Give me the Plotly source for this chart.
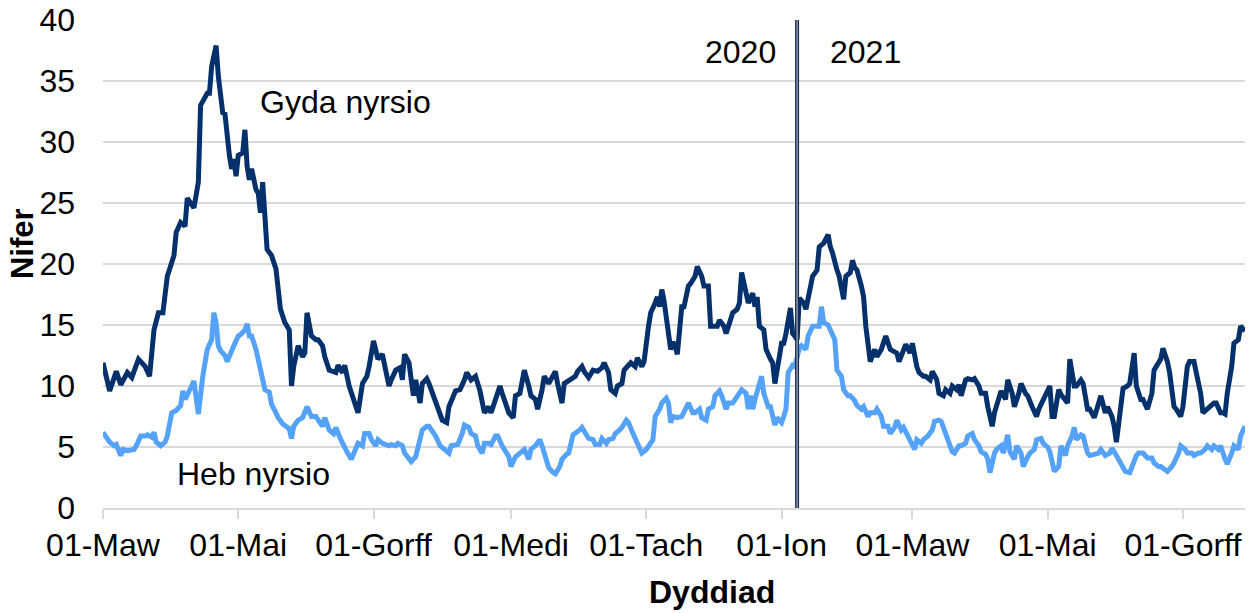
import pandas as pd
import plotly.graph_objects as go

START = "2020-03-01"

# Gyda nyrsio (with nursing) — day offset from 01-Mar-2020, value
dark_day = [0, 3, 6, 8, 11, 13, 16, 19, 21, 23, 25, 27, 29, 32, 33, 35, 37, 38, 41, 43, 44, 47, 48, 49, 51, 52, 54, 55, 57, 58,
            59, 60, 61, 63, 64, 65, 66, 67, 69, 70, 71, 72, 74, 76, 78, 80, 82, 84, 85, 86, 88, 90, 91, 92, 94, 96, 97, 99, 100, 102,
            105, 106, 108, 109, 111, 112, 114, 115, 117, 119, 120, 122, 124, 126, 127, 129, 130, 132, 134, 135, 136, 138, 139, 140, 141, 143, 144, 146, 147, 149,
            151, 153, 155, 156, 159, 161, 163, 164, 166, 168, 170, 172, 174, 175, 177, 179, 180, 182, 183, 185, 186, 188, 189, 190, 192, 193, 195, 196, 198, 199,
            201, 202, 204, 205, 207, 208, 210, 213, 214, 216, 217, 219, 221, 223, 225, 226, 228, 229, 231, 232, 234, 235, 237, 238, 240, 241, 243, 244, 246, 247,
            249, 250, 251, 252, 253, 255, 256, 257, 258, 259, 261, 262, 264, 265, 267, 268, 270, 271, 273, 274, 277, 278, 280, 281, 283, 284, 286, 287, 288, 290,
            291, 293, 294, 295, 296, 298, 299, 301, 302, 303, 305, 306, 307, 308, 310, 311, 312, 313, 314, 316, 317, 319, 320, 322, 323, 325, 327, 328, 329, 331,
            332, 334, 335, 337, 338, 339, 340, 342, 343, 344, 345, 346, 348, 349, 351, 353, 355, 358, 359, 361, 362, 364, 365, 367, 368, 370, 371, 373, 374, 376,
            377, 379, 380, 382, 383, 385, 386, 387, 389, 390, 392, 393, 395, 396, 398, 399, 401, 402, 404, 405, 407, 408, 410, 411, 413, 414, 416, 417, 419, 421,
            422, 425, 426, 427, 428, 429, 431, 432, 435, 436, 438, 439, 441, 442, 444, 445, 447, 448, 450, 452, 453, 455, 456, 457, 459, 460, 462, 463, 465, 466,
            468, 469, 471, 473, 474, 476, 477, 478, 480, 481, 483, 484, 486, 487, 489, 490, 492, 493, 495, 496, 498, 501, 502, 504, 505, 506, 507, 509, 510, 512,
            513, 515]
dark_val = [11.9, 9.6, 11.2, 10.1, 11.1, 10.7, 12.2, 11.6, 10.8, 14.6, 16.0, 16.0, 19.0, 20.7, 22.6, 23.4, 23.1, 25.4, 24.6, 26.7, 33.0, 34.0, 34.0, 36.2, 37.9, 35.4, 32.4, 32.3, 28.9, 27.8,
            28.6, 27.2, 28.9, 29.1, 31.0, 28.0, 26.9, 27.8, 26.1, 25.8, 24.2, 26.7, 21.2, 20.7, 19.6, 16.3, 15.2, 14.6, 10.0, 11.6, 13.3, 12.4, 12.7, 16.0, 14.1, 13.8, 13.8, 13.3, 12.4, 11.3,
            11.1, 11.7, 11.1, 11.7, 10.0, 9.4, 8.1, 7.8, 10.2, 10.8, 11.6, 13.7, 12.2, 12.6, 11.7, 10.0, 10.5, 11.3, 11.5, 10.5, 12.6, 11.9, 10.5, 9.2, 10.5, 8.6, 10.2, 10.6, 10.2, 9.2,
            8.1, 7.2, 7.0, 8.3, 9.6, 9.7, 10.5, 11.1, 10.5, 10.8, 9.6, 7.8, 8.3, 7.8, 8.9, 10.0, 9.4, 8.3, 7.8, 7.4, 9.2, 9.4, 10.2, 11.3, 10.0, 9.2, 8.9, 8.1, 9.7, 10.8,
            10.2, 10.5, 11.2, 10.2, 8.6, 10.2, 10.4, 10.8, 11.2, 11.6, 11.2, 10.7, 11.3, 11.2, 11.5, 11.9, 11.1, 9.7, 9.4, 10.0, 10.2, 11.3, 11.7, 11.9, 11.6, 12.3, 11.6, 12.0, 14.9, 16.0,
            16.8, 17.3, 16.5, 17.9, 17.0, 13.8, 13.0, 13.6, 13.3, 12.6, 16.5, 16.5, 18.2, 18.4, 19.0, 19.8, 19.0, 18.2, 18.2, 14.9, 14.9, 15.4, 14.9, 14.3, 15.4, 16.0, 16.3, 16.8, 19.3, 17.3,
            16.8, 17.6, 16.5, 17.3, 14.9, 14.6, 13.0, 12.2, 11.9, 10.2, 12.4, 13.5, 13.5, 14.3, 16.4, 14.3, 14.1, 13.8, 17.2, 16.8, 16.3, 18.2, 19.0, 19.5, 21.4, 21.7, 22.4, 21.4, 20.9, 19.5,
            19.0, 17.1, 19.0, 19.3, 20.3, 19.7, 19.5, 18.2, 17.3, 14.9, 13.5, 12.0, 13.0, 12.4, 13.0, 14.1, 13.0, 12.7, 12.0, 13.0, 13.4, 12.7, 13.5, 11.6, 11.1, 10.8, 10.8, 10.5, 11.2, 10.5,
            9.4, 9.2, 9.7, 9.4, 10.0, 9.7, 10.1, 9.2, 10.5, 10.6, 10.5, 10.6, 10.0, 9.4, 9.4, 8.3, 6.7, 7.8, 8.9, 9.6, 8.9, 10.5, 9.4, 8.3, 9.4, 10.2, 9.4, 9.2, 8.3, 7.5,
            8.1, 9.2, 9.7, 10.0, 7.5, 7.5, 9.7, 9.3, 8.6, 12.2, 10.0, 10.0, 10.5, 10.2, 8.1, 8.1, 7.4, 8.1, 9.2, 7.8, 8.3, 7.5, 6.7, 5.4, 8.3, 9.8, 10.0, 10.2, 12.7, 10.0,
            8.9, 8.9, 8.1, 9.4, 11.3, 12.0, 12.2, 13.1, 12.0, 11.1, 8.3, 8.1, 7.5, 8.3, 11.6, 12.0, 12.0, 11.1, 9.4, 7.8, 8.1, 8.6, 8.6, 7.8, 7.8, 7.7, 9.4, 11.6, 13.5, 13.8,
            14.9, 14.5]

# Heb nyrsio (without nursing)
light_day = [0, 2, 3, 5, 6, 8, 9, 11, 14, 15, 17, 19, 20, 22, 23, 24, 26, 28, 29, 31, 33, 35, 36, 37, 38, 40, 41, 43, 45, 46,
             47, 49, 50, 51, 52, 53, 55, 56, 58, 59, 61, 62, 64, 65, 66, 67, 69, 70, 72, 73, 75, 76, 78, 79, 81, 82, 84, 85, 86, 88,
             90, 92, 94, 96, 98, 99, 100, 102, 104, 105, 107, 108, 110, 112, 114, 115, 117, 118, 120, 121, 123, 124, 126, 127, 129, 130, 132, 133, 135, 136,
             138, 139, 141, 142, 144, 146, 147, 150, 152, 154, 156, 157, 159, 160, 162, 163, 165, 166, 168, 169, 171, 172, 174, 175, 177, 178, 180, 181, 183, 184,
             186, 188, 190, 192, 193, 195, 197, 198, 200, 201, 203, 204, 206, 207, 209, 210, 212, 213, 215, 216, 218, 219, 221, 222, 224, 225, 227, 228, 230, 231,
             233, 234, 236, 237, 239, 240, 242, 243, 245, 246, 248, 249, 251, 252, 254, 255, 256, 257, 259, 261, 263, 264, 266, 267, 269, 270, 272, 273, 275, 276,
             278, 279, 281, 282, 284, 285, 287, 288, 290, 291, 292, 293, 294, 296, 297, 298, 300, 301, 303, 304, 306, 307, 308, 309, 311, 312, 314, 315, 317, 318,
             320, 321, 323, 324, 325, 327, 328, 330, 331, 333, 334, 336, 337, 339, 340, 342, 343, 345, 346, 348, 349, 351, 352, 354, 355, 357, 358, 360, 361, 363,
             364, 366, 367, 369, 370, 372, 374, 375, 377, 378, 380, 381, 383, 384, 386, 387, 389, 390, 392, 393, 395, 396, 398, 399, 400, 402, 403, 405, 406, 408,
             409, 411, 412, 414, 415, 417, 418, 420, 421, 423, 424, 426, 427, 429, 431, 432, 434, 435, 437, 438, 439, 441, 442, 444, 445, 447, 449, 450, 452, 454,
             455, 457, 458, 460, 461, 463, 464, 466, 467, 469, 471, 473, 474, 476, 477, 479, 480, 482, 483, 485, 486, 488, 489, 491, 492, 494, 495, 497, 498, 500,
             501, 503, 504, 506, 507, 509, 510, 512, 513, 515]
light_val = [6.2, 5.6, 5.4, 5.1, 5.2, 4.3, 4.8, 4.7, 4.8, 5.1, 5.9, 5.9, 6.0, 5.8, 6.2, 5.4, 5.1, 5.4, 5.9, 7.8, 8.0, 8.4, 9.6, 8.9, 9.2, 10.0, 10.4, 7.7, 10.8, 12.3,
             13.0, 13.8, 16.0, 15.2, 13.3, 12.9, 12.5, 12.0, 13.0, 13.3, 14.1, 14.2, 14.6, 15.1, 14.1, 14.1, 13.0, 12.2, 10.8, 9.7, 9.5, 8.5, 7.8, 7.4, 6.9, 6.8, 6.5, 5.7, 6.7, 7.2,
             7.4, 8.3, 7.5, 7.5, 7.0, 6.7, 7.4, 6.4, 6.1, 6.6, 5.7, 5.3, 4.6, 4.0, 4.8, 5.3, 5.1, 6.1, 6.1, 5.6, 5.1, 5.6, 5.3, 5.2, 5.1, 5.2, 5.1, 5.3, 5.1, 4.5,
             4.0, 3.8, 4.2, 5.1, 6.4, 6.7, 6.7, 5.9, 5.1, 4.8, 4.5, 5.1, 5.1, 5.2, 6.1, 6.8, 6.6, 6.1, 5.9, 5.1, 4.5, 5.3, 5.3, 5.2, 5.9, 5.9, 5.1, 4.8, 4.2, 3.4,
             4.2, 4.5, 4.8, 4.0, 4.8, 5.1, 5.6, 5.1, 4.0, 3.3, 2.9, 2.8, 3.4, 4.0, 4.4, 4.5, 6.0, 6.1, 6.4, 6.6, 5.9, 5.7, 5.6, 5.2, 5.2, 5.7, 5.3, 5.6, 5.7, 6.1,
             6.4, 6.6, 7.2, 7.0, 6.1, 5.7, 5.1, 4.5, 4.8, 5.1, 5.6, 7.5, 8.1, 8.6, 9.0, 8.6, 7.0, 7.5, 7.4, 7.5, 8.2, 8.6, 7.8, 7.8, 8.1, 7.4, 7.2, 8.1, 8.3, 9.2,
             9.6, 9.2, 8.1, 8.6, 8.6, 8.9, 9.4, 9.7, 9.4, 8.1, 9.2, 8.1, 8.9, 10.0, 10.8, 9.4, 8.3, 8.3, 6.8, 7.4, 7.0, 7.5, 8.1, 11.1, 11.7, 11.6, 13.1, 13.3, 13.0, 14.1,
             14.9, 14.9, 14.9, 16.5, 15.2, 15.0, 14.6, 13.8, 11.3, 10.8, 9.7, 9.2, 9.2, 8.8, 8.4, 8.1, 8.3, 7.5, 7.8, 7.8, 8.1, 7.5, 6.7, 6.7, 6.1, 6.6, 7.2, 6.4, 6.6, 5.9,
             5.7, 4.8, 5.6, 5.3, 5.6, 5.9, 6.4, 7.1, 7.2, 7.1, 6.1, 5.6, 4.6, 4.5, 5.1, 5.1, 5.3, 5.9, 6.1, 5.6, 5.1, 4.6, 4.4, 4.0, 2.9, 4.5, 4.8, 5.1, 4.5, 6.0,
             4.6, 4.0, 5.1, 4.5, 3.4, 4.2, 4.5, 4.8, 5.6, 5.7, 5.3, 5.0, 4.6, 3.0, 3.4, 5.1, 4.3, 5.1, 5.9, 6.6, 5.6, 6.0, 5.9, 4.5, 4.3, 4.4, 4.5, 4.8, 4.3, 4.5,
             4.9, 4.3, 4.0, 3.4, 3.0, 2.9, 3.4, 4.3, 4.5, 4.5, 4.1, 4.1, 3.7, 3.4, 3.4, 3.2, 3.0, 3.4, 3.7, 4.5, 5.1, 4.8, 4.5, 4.5, 4.3, 4.5, 4.5, 4.8, 5.1, 4.8,
             5.1, 4.8, 5.1, 4.0, 3.6, 4.5, 5.1, 4.8, 5.9, 6.7]

tick_dates = ["2020-03-01", "2020-05-01", "2020-07-01", "2020-09-01", "2020-11-01",
              "2021-01-01", "2021-03-01", "2021-05-01", "2021-07-01"]
tick_labels = ["01-Maw", "01-Mai", "01-Gorff", "01-Medi", "01-Tach",
               "01-Ion", "01-Maw", "01-Mai", "01-Gorff"]
y_ticks = [0, 5, 10, 15, 20, 25, 30, 35, 40]

start = pd.Timestamp(START)
dark_x = start + pd.to_timedelta(dark_day, unit="D")
light_x = start + pd.to_timedelta(light_day, unit="D")

DARK = "#04306b"
LIGHT = "#55a2fb"
FONT = "Liberation Sans, Arial, sans-serif"
GRID = "#d9d9d9"
FS = 32

fig = go.Figure()
fig.add_trace(go.Scatter(x=dark_x, y=dark_val, mode="lines", name="Gyda nyrsio",
                         line=dict(color=DARK, width=5), showlegend=False))
fig.add_trace(go.Scatter(x=light_x, y=light_val, mode="lines", name="Heb nyrsio",
                         line=dict(color=LIGHT, width=5), showlegend=False))

# year divider
divider = "2021-01-08"
fig.add_shape(type="line", xref="x", yref="paper", x0=divider, x1=divider, y0=0, y1=1,
              line=dict(color="#1c2a44", width=4), layer="above")
fig.add_shape(type="line", xref="x", yref="paper", x0=divider, x1=divider, y0=0, y1=1,
              line=dict(color="#9db8e0", width=1.2), layer="above")

ann_font = dict(family=FONT, size=FS, color="#000000")
fig.add_annotation(x=0.591, y=0.934, xref="paper", yref="paper", text="2020", showarrow=False,
                   xanchor="right", yanchor="middle", font=ann_font)
fig.add_annotation(x=0.635, y=0.934, xref="paper", yref="paper", text="2021", showarrow=False,
                   xanchor="left", yanchor="middle", font=ann_font)
fig.add_annotation(x=0.1357, y=0.832, xref="paper", yref="paper", text="Gyda nyrsio", showarrow=False,
                   xanchor="left", yanchor="middle", font=ann_font)
fig.add_annotation(x=0.063, y=0.0697, xref="paper", yref="paper", text="Heb nyrsio", showarrow=False,
                   xanchor="left", yanchor="middle", font=ann_font)
fig.add_annotation(x=0.5333, y=-0.172, xref="paper", yref="paper", text="<b>Dyddiad</b>",
                   showarrow=False, xanchor="center", yanchor="middle",
                   font=dict(family=FONT, size=FS, color="#000000"))
fig.add_annotation(x=-0.070, y=0.541, xref="paper", yref="paper", text="<b>Nifer</b>",
                   showarrow=False, textangle=-90, xanchor="center", yanchor="middle",
                   font=dict(family=FONT, size=31, color="#000000"))

fig.update_layout(
    width=1256, height=613,
    margin=dict(l=103, r=11, t=20, b=105, autoexpand=False),
    paper_bgcolor="white", plot_bgcolor="white",
    font=dict(family=FONT, size=FS, color="#000000"),
    xaxis=dict(type="date", range=[START, "2021-07-29"], automargin=False,
               tickvals=tick_dates, ticktext=tick_labels,
               showgrid=False, showline=True, linecolor=GRID, linewidth=1.5,
               ticks="outside", ticklen=9, tickcolor=GRID, tickwidth=1.5, ticklabelstandoff=-1,
               ticklabeloverflow="allow",
               tickfont=dict(family=FONT, size=FS, color="#000000"), zeroline=False),
    yaxis=dict(range=[0, 40], tickvals=y_ticks, showgrid=True, gridcolor=GRID, gridwidth=1.5,
               zeroline=False, showline=False, ticks="", ticklabelstandoff=27, automargin=False,
               ticklabeloverflow="allow",
               tickfont=dict(family=FONT, size=FS, color="#000000")),
)
# remove the default 8px page margin so the figure fills the window exactly
fig.write_html("out.html", config={"displayModeBar": False},
               post_script="document.body.style.margin='0';document.body.style.overflow='hidden';")
